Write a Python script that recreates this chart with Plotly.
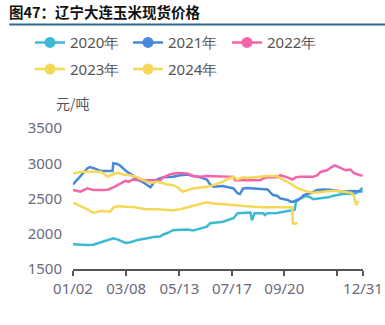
import plotly.graph_objects as go

# x = day of year (reference year), y = price (元/吨)
d2020 = [2, 11, 20, 27, 36, 45, 52, 57, 63, 67, 73, 82, 94, 102, 110, 114, 119, 126, 135, 144, 151, 160, 168, 172, 188, 201, 206, 222, 224, 227, 238, 240, 243, 255, 263, 272, 277, 278.5, 284, 290, 296, 300, 305, 312, 320, 325, 333, 340, 346, 352, 356, 361]
v2020 = [1850, 1840, 1840, 1845, 1880, 1905, 1935, 1920, 1885, 1870, 1880, 1910, 1935, 1955, 1960, 1990, 2010, 2050, 2055, 2060, 2045, 2075, 2100, 2150, 2170, 2220, 2290, 2300, 2190, 2290, 2290, 2265, 2290, 2295, 2314, 2338, 2340, 2455, 2500, 2535, 2520, 2490, 2495, 2505, 2520, 2540, 2560, 2570, 2565, 2570, 2600, 2650]

d2021 = [2, 11, 20, 23, 27, 30, 36, 45, 51, 52, 57, 61, 64, 69, 76, 79, 88, 94, 98, 102, 106, 114, 126, 135, 144, 151, 160, 168, 172, 176, 188, 201, 206, 209, 213, 218, 231, 243, 247, 250, 255, 259, 268, 272, 275, 280, 284, 288, 296, 305, 312, 321, 330, 337, 346, 355, 361]
v2021 = [2700, 2810, 2930, 2945, 2935, 2920, 2890, 2890, 2890, 3000, 2990, 2960, 2925, 2878, 2830, 2784, 2737, 2690, 2660, 2720, 2770, 2800, 2810, 2830, 2840, 2818, 2800, 2770, 2700, 2666, 2676, 2643, 2575, 2563, 2643, 2650, 2640, 2629, 2582, 2549, 2540, 2502, 2479, 2455, 2455, 2479, 2500, 2549, 2573, 2620, 2629, 2625, 2610, 2596, 2605, 2600, 2600]

d2022 = [2, 11, 20, 27, 36, 45, 52, 61, 67, 71, 76, 82, 110, 114, 123, 131, 144, 151, 160, 168, 182, 188, 201, 203, 209, 234, 238, 243, 255, 259, 268, 274, 278, 284, 300, 305, 309, 317, 323, 327, 333, 340, 346, 350, 358, 361]
v2022 = [2620, 2596, 2643, 2619, 2619, 2625, 2657, 2713, 2750, 2737, 2770, 2760, 2760, 2800, 2845, 2863, 2854, 2818, 2807, 2818, 2815, 2807, 2807, 2760, 2760, 2760, 2784, 2800, 2800, 2830, 2800, 2770, 2800, 2807, 2807, 2830, 2877, 2900, 2948, 2970, 2939, 2900, 2910, 2863, 2830, 2825]

d2023 = [2, 11, 20, 36, 40, 45, 51, 57, 64, 73, 82, 89, 98, 107, 119, 126, 132, 138, 144, 151, 160, 168, 176, 182, 188, 195, 201, 206, 213, 218, 234, 243, 255, 259, 268, 274, 281, 293, 300, 312, 325, 337, 346, 350, 353, 356]
v2023 = [2854, 2875, 2878, 2878, 2854, 2807, 2840, 2863, 2840, 2830, 2800, 2760, 2722, 2737, 2700, 2690, 2657, 2596, 2619, 2643, 2657, 2665, 2690, 2710, 2740, 2784, 2807, 2770, 2800, 2790, 2807, 2818, 2818, 2784, 2737, 2690, 2643, 2596, 2582, 2596, 2610, 2596, 2582, 2549, 2408, 2465]

d2024 = [2, 11, 20, 26, 30, 36, 45, 48, 52, 58, 69, 77, 85, 94, 107, 119, 126, 135, 147, 160, 168, 176, 188, 201, 213, 226, 238, 274, 274.5, 278, 280]
v2024 = [2441, 2394, 2347, 2300, 2300, 2324, 2314, 2314, 2371, 2394, 2380, 2380, 2361, 2347, 2347, 2333, 2333, 2347, 2385, 2420, 2445, 2430, 2422, 2408, 2394, 2385, 2375, 2375, 2150, 2140, 2160]

names = ["2020年", "2021年", "2022年", "2023年", "2024年"]
colors = ["#3DBAD3", "#4788D8", "#F564A9", "#F5D858", "#F5D858"]
series = [(d2020, v2020), (d2021, v2021), (d2022, v2022), (d2023, v2023), (d2024, v2024)]

tick_vals = [2, 68, 134, 199, 264, 329, 361.6]
tick_text = ["01/02", "03/08", "05/13", "07/17", "09/20", "", "12/31"]
y_ticks = [1500, 2000, 2500, 3000, 3500]

# legend entry placement (pixels in the 385x325 page)
leg_x = [30, 128, 227, 30, 128]
leg_y = [42.7, 42.7, 42.7, 69.3, 69.3]
leg_ids = ["legend", "legend2", "legend3", "legend4", "legend5"]

fig = go.Figure()
for (xs, ys), nm, c in zip(series, names, colors):
    fig.add_trace(go.Scatter(x=xs, y=ys, mode="lines", line=dict(color=c, width=2.5),
                             name=nm, showlegend=False))
for nm, c, lg in zip(names, colors, leg_ids):
    fig.add_trace(go.Scatter(x=[None], y=[None], mode="lines+markers", name=nm, legend=lg,
                             line=dict(color=c, width=2.5), marker=dict(color=c, size=11)))

L, R, T, B = 72.7, 22.3, 127.5, 55.5
H = 325 - T - B

def leg(xpx, ypx):
    return dict(orientation="h", xref="container", yref="container",
                x=xpx/385, y=1-ypx/325, xanchor="left", yanchor="middle",
                font=dict(size=15, color="#555555"),
                bgcolor="rgba(0,0,0,0)", itemwidth=30)

legends = {lid: leg(xp, yp) for lid, xp, yp in zip(leg_ids, leg_x, leg_y)}

fig.update_layout(
    width=385, height=325,
    margin=dict(l=L, r=R, t=T, b=B, pad=0, autoexpand=False),
    paper_bgcolor="white", plot_bgcolor="white",
    font=dict(family="Noto Sans, sans-serif", color="#666670", size=15),
    title=dict(text="<b>图47：辽宁大连玉米现货价格</b>", xref="container", yref="container",
               x=9/385, y=1-12.7/325, xanchor="left", yanchor="middle",
               font=dict(size=14.5, color="#111111", family="Noto Sans CJK SC")),
    xaxis=dict(range=[2, 361.6], tickvals=tick_vals, ticktext=tick_text, showgrid=False,
               zeroline=False, showline=True, linecolor="#555555", linewidth=1.5,
               ticks="outside", ticklen=5, tickcolor="#555555", tickwidth=1.5,
               tickfont=dict(size=15, color="#6a6a78")),
    yaxis=dict(range=[1500, 3500], tickvals=y_ticks, showgrid=False, zeroline=False,
               showline=False, ticks="", ticklabelstandoff=10,
               tickfont=dict(size=15, color="#6a6a78")),
    shapes=[dict(type="line", xref="paper", yref="paper",
                 x0=(9 - L)/290, x1=(385 - L)/290,
                 y0=(269.5 - 23.3)/H, y1=(269.5 - 23.3)/H,
                 line=dict(color="#2D6A8C", width=2))],
    annotations=[dict(text="元/吨", xref="paper", yref="paper", x=0, y=(269.5 - 102)/H,
                      xanchor="center", yanchor="middle", showarrow=False,
                      font=dict(size=14, color="#555555", family="Noto Sans CJK SC"))],
    **legends,
)
fig.write_html("out.html")
